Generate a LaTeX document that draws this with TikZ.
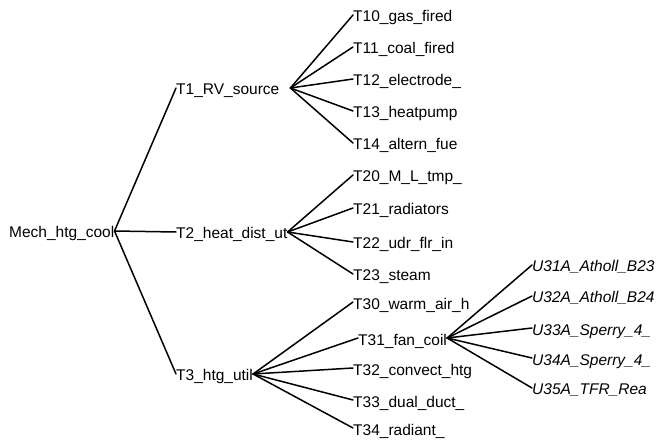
\documentclass[tikz,border=0pt]{standalone}
\usepackage{fontspec}
\setmainfont{Liberation Sans}
\begin{document}
\begin{tikzpicture}[x=1pt,y=-1pt,
  lbl/.style={anchor=west, inner sep=0pt, font=\fontsize{15.5}{18}\selectfont, text height=14pt, text depth=0pt},
  ulbl/.style={lbl, font=\fontsize{15.5}{18}\selectfont\itshape},
  edge/.style={line width=1.5pt, line cap=round}]
\useasboundingbox (0,0) rectangle (657,441);
% root
\node[lbl] (root) at (9,231) {Mech\_htg\_cool};
% level 1
\node[lbl, text width=114pt, align=left] (t1) at (176,88) {T1\_RV\_source};
\node[lbl] (t2) at (176,232) {T2\_heat\_dist\_ut};
\node[lbl] (t3) at (176,374) {T3\_htg\_util};
% level 2
\node[lbl] (t10) at (353,15) {T10\_gas\_fired};
\node[lbl] (t11) at (353,47) {T11\_coal\_fired};
\node[lbl] (t12) at (353,79) {T12\_electrode\_};
\node[lbl] (t13) at (353,111) {T13\_heatpump};
\node[lbl] (t14) at (353,143) {T14\_altern\_fue};
\node[lbl] (t20) at (353,175) {T20\_M\_L\_tmp\_};
\node[lbl] (t21) at (353,208) {T21\_radiators};
\node[lbl] (t22) at (353,242) {T22\_udr\_flr\_in};
\node[lbl] (t23) at (353,274) {T23\_steam};
\node[lbl] (t30) at (353,302) {T30\_warm\_air\_h};
\node[lbl] (t31) at (358,338) {T31\_fan\_coil};
\node[lbl] (t32) at (353,368) {T32\_convect\_htg};
\node[lbl] (t33) at (353,400) {T33\_dual\_duct\_};
\node[lbl] (t34) at (353,428) {T34\_radiant\_};
% level 3
\node[ulbl] (u31) at (532,265) {U31A\_Atholl\_B23};
\node[ulbl] (u32) at (532,296) {U32A\_Atholl\_B24};
\node[ulbl] (u33) at (532,328) {U33A\_Sperry\_4\_};
\node[ulbl] (u34) at (532,358) {U34A\_Sperry\_4\_};
\node[ulbl] (u35) at (532,388) {U35A\_TFR\_Rea};
% connectors
\foreach \c in {t1,t2,t3} \draw[edge] (root.east) -- (\c.west);
\foreach \c in {t10,t11,t12,t13,t14} \draw[edge] (t1.east) -- (\c.west);
\foreach \c in {t20,t21,t22,t23} \draw[edge] (t2.east) -- (\c.west);
\foreach \c in {t30,t31,t32,t33,t34} \draw[edge] (t3.east) -- (\c.west);
\foreach \c in {u31,u32,u33,u34,u35} \draw[edge] (t31.east) -- (\c.west);
\end{tikzpicture}
\end{document}
